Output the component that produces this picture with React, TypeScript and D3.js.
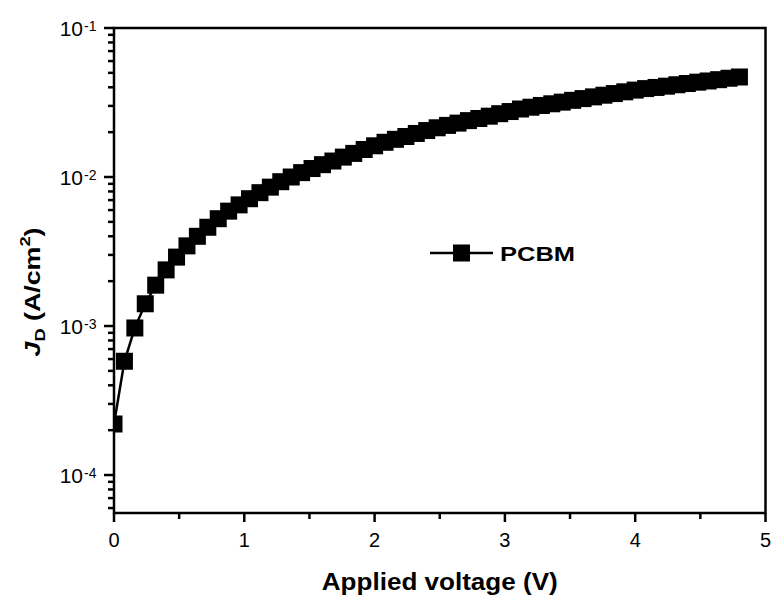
import React from "react";
import * as d3 from "d3";

const voltage: number[] = [
  0, 0.08, 0.16, 0.24, 0.32, 0.4, 0.48, 0.56, 0.64, 0.72, 0.8, 0.88, 0.96, 1.04, 1.12, 1.2,
  1.28, 1.36, 1.44, 1.52, 1.6, 1.68, 1.76, 1.84, 1.92, 2.0, 2.08, 2.16, 2.24, 2.32, 2.4,
  2.48, 2.56, 2.64, 2.72, 2.8, 2.88, 2.96, 3.04, 3.12, 3.2, 3.28, 3.36, 3.44, 3.52, 3.6,
  3.68, 3.76, 3.84, 3.92, 4.0, 4.08, 4.16, 4.24, 4.32, 4.4, 4.48, 4.56, 4.64, 4.72, 4.8,
];
const currentDensity: number[] = [
  2.2e-4, 5.8e-4, 9.7e-4, 1.41e-3, 1.88e-3, 2.38e-3, 2.9e-3, 3.45e-3, 4.0e-3, 4.6e-3,
  5.25e-3, 5.9e-3, 6.5e-3, 7.15e-3, 7.85e-3, 8.55e-3, 9.3e-3, 1.0e-2, 1.07e-2, 1.14e-2,
  1.21e-2, 1.28e-2, 1.36e-2, 1.44e-2, 1.53e-2, 1.62e-2, 1.71e-2, 1.79e-2, 1.87e-2, 1.96e-2,
  2.05e-2, 2.14e-2, 2.22e-2, 2.3e-2, 2.39e-2, 2.47e-2, 2.56e-2, 2.66e-2, 2.75e-2, 2.86e-2,
  2.94e-2, 3.02e-2, 3.1e-2, 3.18e-2, 3.27e-2, 3.36e-2, 3.45e-2, 3.54e-2, 3.63e-2, 3.73e-2,
  3.83e-2, 3.92e-2, 3.99e-2, 4.07e-2, 4.16e-2, 4.24e-2, 4.33e-2, 4.41e-2, 4.5e-2, 4.6e-2,
  4.69e-2,
];
const xTicks: number[] = [0, 1, 2, 3, 4, 5];
const xMinorTicks: number[] = [0.5, 1.5, 2.5, 3.5, 4.5];
const yTickExponents: number[] = [-1, -2, -3, -4];
const seriesName = "PCBM";

const W = 774;
const H = 599;
const left = 114;
const right = 765.5;
const top = 28;
const bottom = 513;
const FONT = "'Liberation Sans', Arial, Helvetica, sans-serif";

export default function App() {
  const x = d3.scaleLinear().domain([0, 5]).range([left, right]);
  const y = d3.scaleLog().domain([5.56e-5, 0.1]).range([bottom, top]);

  const data = voltage.map((v, i) => ({ v, j: currentDensity[i] }));
  const line = d3
    .line<{ v: number; j: number }>()
    .x((d) => x(d.v))
    .y((d) => y(d.j));

  const minorY: number[] = [];
  for (let e = -5; e <= -2; e++) {
    for (let k = 2; k <= 9; k++) {
      const val = k * Math.pow(10, e);
      if (val >= 5.56e-5 && val < 0.1) minorY.push(val);
    }
  }
  const ms = 17;

  return (
    <svg
      width={W}
      height={H}
      style={{ position: "fixed", left: 0, top: 0, background: "#fff" }}
      fontFamily={FONT}
    >
      <defs>
        <clipPath id="plotClip">
          <rect x={left} y={top} width={right - left} height={bottom - top} />
        </clipPath>
      </defs>
      <rect x={0} y={0} width={W} height={H} fill="#fff" />

      <g clipPath="url(#plotClip)">
        <path d={line(data) || ""} fill="none" stroke="#000" strokeWidth={2.5} />
        {data.map((d, i) => (
          <rect
            key={i}
            x={x(d.v) - ms / 2}
            y={y(d.j) - ms / 2}
            width={ms}
            height={ms}
            fill="#000"
          />
        ))}
      </g>

      {/* frame */}
      <rect
        x={left}
        y={top}
        width={right - left}
        height={bottom - top}
        fill="none"
        stroke="#000"
        strokeWidth={2.5}
      />

      {/* x ticks */}
      {xTicks.map((t) => (
        <g key={"xt" + t}>
          <line x1={x(t)} x2={x(t)} y1={bottom} y2={bottom + 9} stroke="#000" strokeWidth={2.5} />
          <text x={x(t)} y={547} textAnchor="middle" fontSize={20}>
            {t}
          </text>
        </g>
      ))}
      {xMinorTicks.map((t) => (
        <line key={"xm" + t} x1={x(t)} x2={x(t)} y1={bottom} y2={bottom + 6} stroke="#000" strokeWidth={2.5} />
      ))}

      {/* y ticks */}
      {yTickExponents.map((e) => {
        const yy = y(Math.pow(10, e));
        return (
          <g key={"yt" + e}>
            <line x1={left - 10} x2={left} y1={yy} y2={yy} stroke="#000" strokeWidth={2.5} />
            <text x={83} y={yy + 8} textAnchor="end" fontSize={21}>
              10
            </text>
            <text x={84} y={yy + 3} textAnchor="start" fontSize={14}>
              {"-" + Math.abs(e)}
            </text>
          </g>
        );
      })}
      {minorY.map((v, i) => (
        <line key={"ym" + i} x1={left - 6} x2={left} y1={y(v)} y2={y(v)} stroke="#000" strokeWidth={2.5} />
      ))}

      {/* axis titles */}
      <text
        x={(left + right) / 2}
        y={590}
        textAnchor="middle"
        fontSize={23}
        fontWeight="bold"
        textLength={236}
        lengthAdjust="spacingAndGlyphs"
      >
        Applied voltage (V)
      </text>
      <text
        transform={`translate(40, 292) rotate(-90)`}
        textAnchor="middle"
        fontSize={22}
        fontWeight="bold"
        textLength={129}
        lengthAdjust="spacingAndGlyphs"
      >
        <tspan fontStyle="italic">J</tspan>
        <tspan fontSize={15} dy={5}>D</tspan>
        <tspan dy={-5}> (A/cm</tspan>
        <tspan fontSize={15} dy={-10}>2</tspan>
        <tspan dy={10}>)</tspan>
      </text>

      {/* legend */}
      <line x1={430} x2={493} y1={253} y2={253} stroke="#000" strokeWidth={2.5} />
      <rect x={461.5 - ms / 2} y={253 - ms / 2} width={ms} height={ms} fill="#000" />
      <text
        x={500}
        y={261}
        fontSize={21}
        fontWeight="bold"
        textLength={75}
        lengthAdjust="spacingAndGlyphs"
      >
        {seriesName}
      </text>
    </svg>
  );
}
